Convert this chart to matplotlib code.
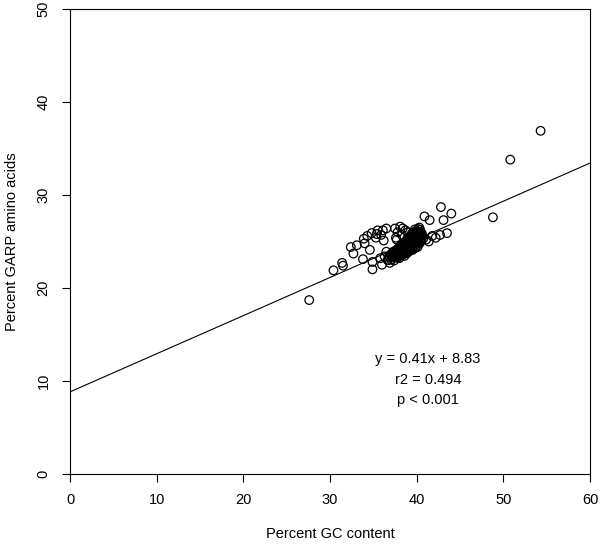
import matplotlib.pyplot as plt
import numpy as np

plt.rcParams['font.family'] = ['Liberation Sans', 'DejaVu Sans']

# scattered points around the main cluster
gc_sparse = [27.6, 30.4, 31.4, 31.5, 32.7, 32.4, 33.1, 33.8, 33.9, 34.3, 34.6, 34.9,
             34.9, 34.8, 35.5, 36.1, 36.5, 35.3, 35.9, 36.0, 36.3, 36.7, 36.9, 37.5,
             38.1, 38.7, 37.7, 38.3, 39.0, 41.1, 41.8, 42.7, 43.5, 40.9, 41.5, 42.8,
             44.0, 43.1, 48.8, 50.8, 54.3, 34.0, 35.8, 36.5, 37.6, 38.4, 37.8, 40.3,
             41.4, 42.2, 35.4, 36.2]
garp_sparse = [18.7, 21.9, 22.7, 22.4, 23.7, 24.4, 24.6, 23.1, 25.3, 25.6, 24.1, 22.8,
               22.0, 25.9, 26.2, 26.2, 26.4, 25.4, 25.7, 22.5, 23.4, 23.0, 22.7, 26.4,
               26.6, 26.2, 25.2, 25.7, 26.0, 25.2, 25.6, 25.7, 25.9, 27.7, 27.3, 28.7,
               28.0, 27.3, 27.6, 33.8, 36.9, 24.8, 23.2, 23.9, 25.4, 26.4, 26.0, 26.5,
               25.0, 25.4, 25.8, 25.1]

# dense band of genes
gc_dense = [36.65, 37.05, 37.4,
            36.9, 37.35, 37.7, 38.05,
            37.0, 37.45, 37.8, 38.2, 38.5,
            37.3, 37.7, 38.1, 38.45, 38.7, 39.05,
            37.85, 38.2, 38.55, 38.8, 39.1, 39.45,
            38.1, 38.45, 38.7, 39.0, 39.35, 39.6, 39.9,
            38.5, 38.85, 39.1, 39.4, 39.75, 40.0, 40.3,
            38.9, 39.2, 39.55, 39.8, 40.1, 40.4,
            39.1, 39.45, 39.7, 40.05, 40.3, 40.6,
            39.35, 39.6, 39.95, 40.2, 40.5,
            39.6, 39.9, 40.25, 40.5,
            39.8, 40.15, 40.4,
            37.6, 38.3, 38.9, 39.5, 40.1, 38.0, 38.6, 39.3, 39.9,
            36.85, 37.2, 37.55, 37.9, 38.25, 38.6,
            37.15, 37.5, 37.9, 38.3, 38.6, 38.9,
            37.6, 38.0, 38.35, 38.65, 38.95, 39.25, 39.55,
            37.95, 38.3, 38.6, 38.9, 39.2, 39.5, 39.8, 40.1,
            38.7, 39.0, 39.3, 39.6, 39.9, 40.2, 40.5,
            39.0, 39.3, 39.6, 39.9, 40.2, 40.5, 40.75,
            39.5, 39.8, 40.1, 40.35, 40.65,
            39.7, 40.0, 40.35, 40.6]
garp_dense = [23.0, 23.05, 22.95,
              23.3, 23.35, 23.25, 23.3,
              23.6, 23.65, 23.55, 23.6, 23.65,
              23.9, 23.95, 23.85, 23.9, 23.95, 23.9,
              24.2, 24.25, 24.15, 24.2, 24.25, 24.2,
              24.5, 24.55, 24.45, 24.5, 24.55, 24.5, 24.45,
              24.8, 24.85, 24.75, 24.8, 24.85, 24.8, 24.75,
              25.1, 25.15, 25.05, 25.1, 25.15, 25.1,
              25.4, 25.45, 25.35, 25.4, 25.45, 25.4,
              25.7, 25.75, 25.65, 25.7, 25.75,
              26.0, 26.05, 25.95, 26.0,
              26.3, 26.35, 26.25,
              24.0, 24.6, 25.3, 25.9, 26.1, 23.2, 23.7, 24.3, 24.9,
              23.45, 23.5, 23.4, 23.45, 23.5, 23.45,
              23.75, 23.8, 23.7, 23.75, 23.8, 23.75,
              24.05, 24.1, 24.0, 24.05, 24.1, 24.05, 24.1,
              24.35, 24.4, 24.3, 24.35, 24.4, 24.35, 24.3, 24.4,
              24.95, 25.0, 24.9, 24.95, 25.0, 24.95, 25.0,
              25.25, 25.3, 25.2, 25.25, 25.3, 25.25, 25.3,
              25.55, 25.6, 25.5, 25.55, 25.6,
              25.85, 25.9, 25.8, 25.85]

gc = gc_sparse + gc_dense
garp = garp_sparse + garp_dense

slope = 0.41
intercept = 8.83

fig = plt.figure(figsize=(6, 5.45), dpi=100)
ax = fig.add_axes([0.1167, 0.1303, 0.8666, 0.8532])

ax.scatter(gc, garp, s=38, facecolors='none', edgecolors='black', linewidths=0.9)
xx = np.array([0, 60])
ax.plot(xx, slope * xx + intercept, color='black', lw=0.8)

ax.set_xlim(0, 60)
ax.set_ylim(0, 50)
ax.set_xticks(range(0, 61, 10))
ax.set_yticks(range(0, 51, 10))
ax.tick_params(direction='out', length=6, width=0.8, labelsize=10.5, pad=8)
for lab in ax.get_yticklabels():
    lab.set_rotation(90)
    lab.set_va('center')
for s in ax.spines.values():
    s.set_linewidth(0.8)

ax.set_xlabel('Percent GC content', fontsize=10.5, labelpad=14)
ax.set_ylabel('Percent GARP amino acids', fontsize=10.5, labelpad=13)

ax.text(41.3, 12.4, 'y = 0.41x + 8.83', ha='center', va='center', fontsize=10.5)
ax.text(41.3, 10.1, 'r2 = 0.494', ha='center', va='center', fontsize=10.5)
ax.text(41.3, 7.95, 'p < 0.001', ha='center', va='center', fontsize=10.5)

fig.savefig('out.png', dpi=100)
